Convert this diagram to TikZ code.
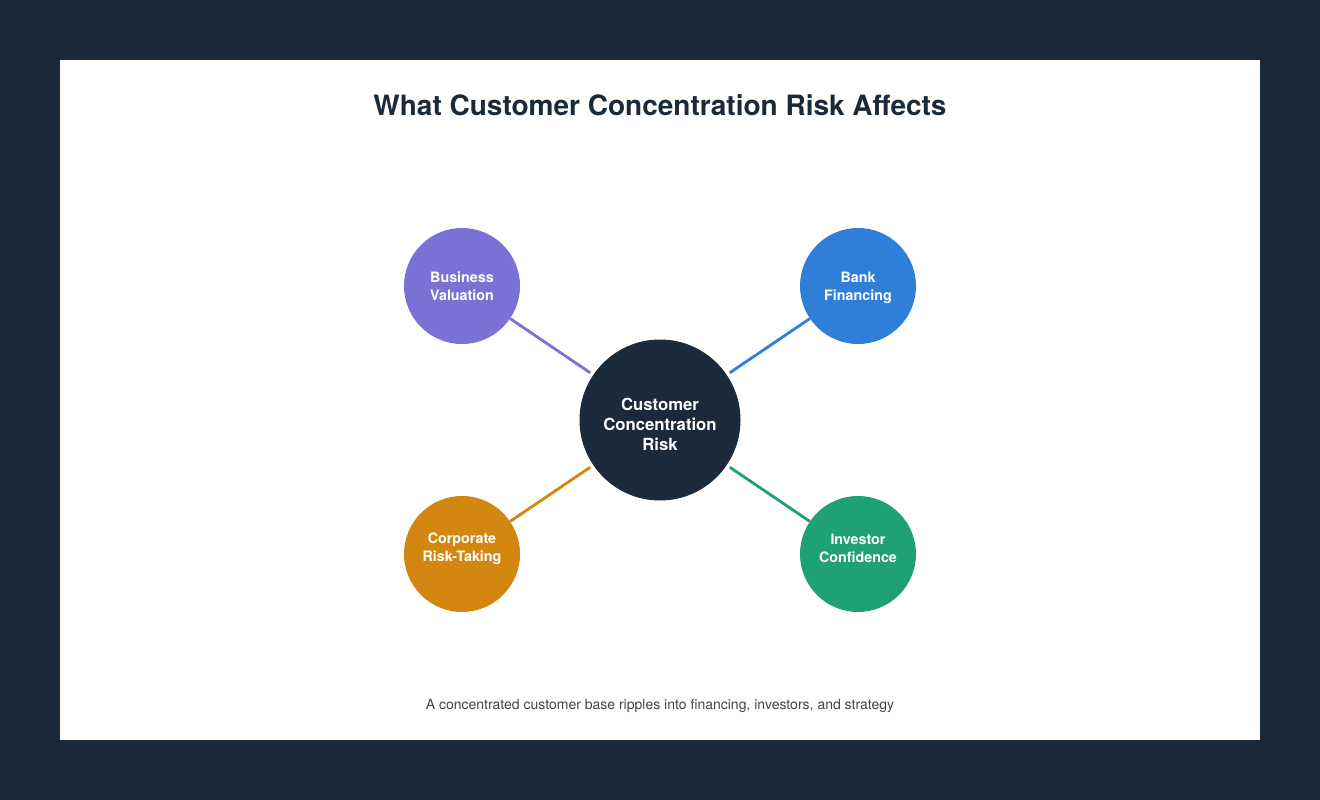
\documentclass[tikz,border=0pt]{standalone}
\usepackage{fontspec}
\setmainfont{TeX Gyre Heros}
\begin{document}
\definecolor{navy}{HTML}{1B2A3B}
\definecolor{valuation}{HTML}{7B70D4}
\definecolor{bank}{HTML}{2F7FD8}
\definecolor{risktaking}{HTML}{D38711}
\definecolor{investor}{HTML}{1FA077}
\definecolor{caption}{HTML}{444444}
\begin{tikzpicture}[x=1pt,y=-1pt,
  hub/.style={circle,fill=navy,minimum size=161pt,inner sep=0pt},
  spoke/.style={circle,minimum size=116pt,inner sep=0pt},
  hubtext/.style={align=center,text=white,font=\fontsize{16.7}{20}\selectfont\bfseries},
  spoketext/.style={align=center,text=white,font=\fontsize{14.3}{18}\selectfont\bfseries},
  link/.style={line width=2.8pt,shorten >=3.5pt}]
  % backdrop and white card
  \fill[navy] (0,0) rectangle (1320,800);
  \fill[white] (60,60) rectangle (1260,740);
  \useasboundingbox (0,0) rectangle (1320,800);

  \node[font=\fontsize{28}{32}\selectfont\bfseries,text=navy] (title) at (660,105) {What Customer Concentration Risk Affects};

  \node[hub,label={[hubtext,yshift=-4pt]center:Customer\\Concentration\\Risk}] (core) at (660,420) {};

  \node[spoke,fill=valuation,label={[spoketext]center:Business\\Valuation}] (val) at (462,286) {};
  \node[spoke,fill=bank,label={[spoketext,yshift=-2pt]center:Bank\\Financing}] (bnk) at (858,286) {};
  \node[spoke,fill=risktaking,label={[spoketext,yshift=5pt]center:Corporate\\Risk-Taking}] (corp) at (462,554) {};
  \node[spoke,fill=investor,label={[spoketext,yshift=6pt]center:Investor\\Confidence}] (inv) at (858,554) {};

  \draw[link,valuation] (val) -- (core);
  \draw[link,bank] (bnk) -- (core);
  \draw[link,risktaking] (corp) -- (core);
  \draw[link,investor] (inv) -- (core);

  \node[font=\fontsize{14}{16}\selectfont,text=caption] (note) at (660,706) {A concentrated customer base ripples into financing, investors, and strategy};
\end{tikzpicture}
\end{document}
